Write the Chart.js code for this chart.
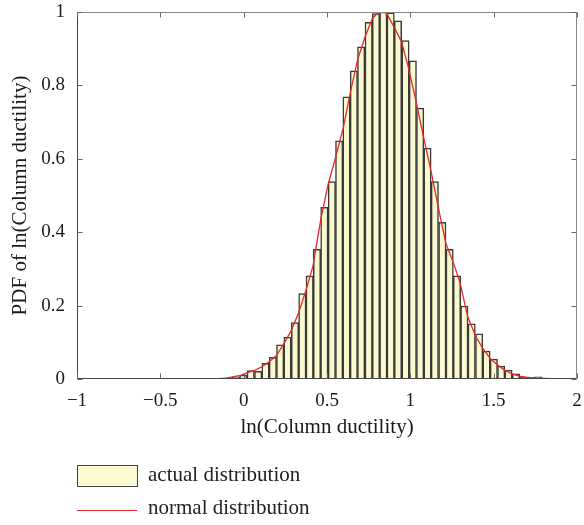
<!DOCTYPE html>
<html><head><meta charset="utf-8">
<script src="https://cdn.jsdelivr.net/npm/chart.js@4"></script>
<style>html,body{margin:0;padding:0;background:#fff;}#wrap{width:584px;height:525px;}</style>
</head><body><div id="wrap"><canvas id="c" width="584" height="525"></canvas></div>
<script>
// Histogram bins (bin centres) and heights
const binCenters = [-0.046,-0.002,0.042,0.087,0.131,0.175,0.219,0.263,0.308,0.352,
  0.396,0.440,0.484,0.529,0.573,0.617,0.661,0.705,0.750,0.794,
  0.838,0.882,0.926,0.971,1.015,1.059,1.103,1.147,1.192,1.236,
  1.280,1.324,1.368,1.413,1.457,1.501,1.545,1.589,1.634,1.678,1.722,1.766];
const pdfValues = [0.006,0.011,0.023,0.021,0.043,0.059,0.093,0.114,0.154,0.233,
  0.281,0.353,0.468,0.538,0.649,0.769,0.840,0.905,0.972,0.996,
  1.000,0.998,0.976,0.922,0.867,0.738,0.629,0.538,0.427,0.353,
  0.281,0.199,0.150,0.123,0.076,0.054,0.035,0.024,0.014,0.005,0.004,0.006];
// Red curve
const curveX = [-1,-0.3,-0.15,-0.108,-0.068,-0.018,0.028,0.072,0.112,0.152,0.196,0.242,0.288,0.332,0.377,
  0.415,0.462,0.506,0.553,0.599,0.643,0.683,0.729,0.773,0.813,0.84,0.863,0.907,0.947,0.987,
  1.033,1.079,1.123,1.167,1.213,1.260,1.299,1.344,1.393,1.434,1.479,1.524,1.563,1.610,1.653,1.694,1.754,1.85,2.0];
const curveY = [0,0,0.001,0.002,0.006,0.010,0.018,0.025,0.034,0.047,0.063,0.097,0.134,0.183,0.247,
  0.306,0.433,0.529,0.606,0.687,0.787,0.869,0.933,0.983,1.0,1.003,0.992,0.955,0.919,0.851,
  0.760,0.660,0.569,0.469,0.370,0.315,0.261,0.170,0.115,0.084,0.056,0.038,0.025,0.014,0.008,0.005,0.002,0.001,0];
const xTickValues = [-1,-0.5,0,0.5,1,1.5,2];
const xTickLabels = ['\u22121','\u22120.5','0','0.5','1','1.5','2'];
const yTickValues = [0,0.2,0.4,0.6,0.8,1];
const yTickLabels = ['0','0.2','0.4','0.6','0.8','1'];
const seriesNames = ['actual distribution','normal distribution'];
const xTitle = 'ln(Column ductility)';
const yTitle = 'PDF of ln(Column ductility)';

const FONT = '"Liberation Serif", "DejaVu Serif", serif';
const barFill = '#FBF9CF', barEdge = '#3a3a3a', curveColor = '#E8262B';

const frame = {
  id: 'frame',
  afterDraw(chart) {
    const {ctx, chartArea: a, scales: {x, y}} = chart;
    ctx.save();
    ctx.lineWidth = 1;
    const L = Math.round(a.left) + 0.5, R = Math.round(a.right) - 0.5;
    const T = Math.round(a.top) + 0.5, B = Math.round(a.bottom) - 0.5;
    ctx.strokeStyle = '#888';
    ctx.beginPath(); ctx.moveTo(L, T); ctx.lineTo(R, T); ctx.lineTo(R, B); ctx.stroke();
    ctx.strokeStyle = '#444';
    ctx.beginPath(); ctx.moveTo(L, T); ctx.lineTo(L, B); ctx.lineTo(R, B); ctx.stroke();
    ctx.strokeStyle = '#666';
    const tl = 5;
    xTickValues.forEach(v => {
      const p = Math.round(x.getPixelForValue(v)) + 0.5;
      ctx.beginPath(); ctx.moveTo(p, B); ctx.lineTo(p, B - tl); ctx.moveTo(p, T); ctx.lineTo(p, T + tl); ctx.stroke();
    });
    yTickValues.forEach(v => {
      const p = Math.round(y.getPixelForValue(v)) + 0.5;
      ctx.beginPath(); ctx.moveTo(L, p); ctx.lineTo(L + tl, p); ctx.moveTo(R, p); ctx.lineTo(R - tl, p); ctx.stroke();
    });
    // legend
    ctx.fillStyle = barFill; ctx.fillRect(77.5, 465.5, 60, 21);
    ctx.strokeStyle = '#444'; ctx.strokeRect(77.5, 465.5, 60, 21);
    ctx.strokeStyle = curveColor; ctx.lineWidth = 1.2;
    ctx.beginPath(); ctx.moveTo(77, 510.5); ctx.lineTo(137, 510.5); ctx.stroke();
    ctx.fillStyle = '#222'; ctx.font = '21px ' + FONT; ctx.textBaseline = 'alphabetic'; ctx.textAlign = 'left';
    ctx.fillText(seriesNames[0], 148, 481);
    ctx.fillText(seriesNames[1], 148, 514);
    ctx.restore();
  }
};

new Chart(document.getElementById('c'), {
  type: 'bar',
  data: {
    datasets: [
      { type: 'line', label: seriesNames[1], data: curveX.map((v, i) => ({x: v, y: curveY[i]})),
        borderColor: curveColor, borderWidth: 1.3, pointRadius: 0, tension: 0, fill: false, order: 0 },
      { type: 'bar', label: seriesNames[0], data: binCenters.map((v, i) => ({x: v, y: pdfValues[i]})),
        backgroundColor: barFill, borderColor: barEdge, borderWidth: 1.5, borderSkipped: 'bottom',
        barPercentage: 1, categoryPercentage: 1, order: 1 }
    ]
  },
  options: {
    responsive: false, animation: false, devicePixelRatio: 1,
    layout: { padding: { left: 0, right: 7, top: 12, bottom: 81 } },
    plugins: { legend: { display: false }, tooltip: { enabled: false } },
    scales: {
      x: {
        type: 'linear', min: -1, max: 2, offset: false,
        afterBuildTicks: s => { s.ticks = xTickValues.map(v => ({value: v})); },
        afterFit: s => { s.height = 65; s.paddingLeft = 0; s.paddingRight = 0; },
        ticks: { callback: (v) => xTickLabels[xTickValues.indexOf(v)], font: {family: FONT, size: 19}, color: '#1a1a1a', padding: 3, maxRotation: 0, autoSkip: false },
        grid: { display: false }, border: { display: false },
        title: { display: true, text: xTitle, font: {family: FONT, size: 21}, color: '#1a1a1a', padding: {top: 0, bottom: 4} }
      },
      y: {
        type: 'linear', min: 0, max: 1,
        afterBuildTicks: s => { s.ticks = yTickValues.map(v => ({value: v})); },
        afterFit: s => { s.width = 77; s.paddingTop = 0; s.paddingBottom = 0; },
        ticks: { callback: (v) => yTickLabels[yTickValues.indexOf(v)], font: {family: FONT, size: 19}, color: '#1a1a1a', padding: 4, autoSkip: false },
        grid: { display: false }, border: { display: false },
        title: { display: true, text: yTitle, font: {family: FONT, size: 21}, color: '#1a1a1a', padding: {top: 8, bottom: 0} }
      }
    }
  },
  plugins: [frame]
});
</script>
</body></html>
